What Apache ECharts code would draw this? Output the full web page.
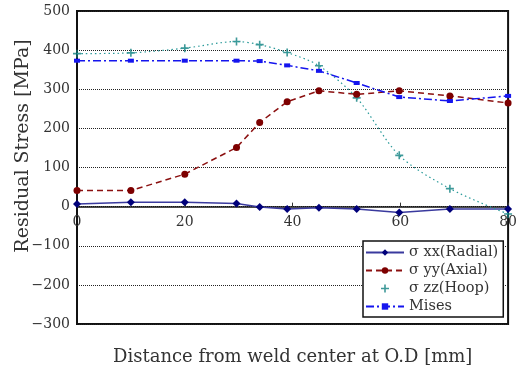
<!DOCTYPE html>
<html>
<head>
<meta charset="utf-8">
<script src="https://cdn.jsdelivr.net/npm/echarts@6/dist/echarts.min.js"></script>
<style>
  html, body { margin: 0; padding: 0; background: #fff; }
  #chart { width: 520px; height: 367px; }
</style>
</head>
<body>
<div id="chart"></div>
<script>
// Distance from weld center at O.D [mm]
const distance = [0, 10, 20, 29.6, 33.9, 39, 44.9, 51.9, 59.8, 69.2, 80];
// Residual stress components [MPa]
const sigmaXX = [7, 11, 11, 8, -1, -6, -3, -6, -15, -6, -6];
const sigmaYY = [41, 41, 83, 151, 215, 268, 296, 287, 296, 283, 265];
const sigmaZZ = [391, 393, 405, 422, 414, 394, 360, 278, 131, 46, -19];
const mises = [373, 373, 373, 373, 372, 361, 347, 316, 280, 270, 283];

const seriesNames = ['σ xx(Radial)', 'σ yy(Axial)', 'σ zz(Hoop)', 'Mises'];
const xTitle = 'Distance from weld center at O.D [mm]';
const yTitle = 'Residual Stress [MPa]';

const FONT = 'DejaVu Serif';
const pairs = vals => distance.map((d, i) => [d, vals[i]]);
const PLUS = 'path://M4,0H6V4H10V6H6V10H4V6H0V4H4Z';

// plot box geometry
const GRID = { left: 77, right: 11, top: 11, bottom: 43 };
const Y_MIN = -300, Y_MAX = 500;
const plotH = 367 - GRID.top - GRID.bottom;
// shift the x axis up from the bottom edge so it sits on the zero line
const zeroOffset = -plotH * (0 - Y_MIN) / (Y_MAX - Y_MIN);

const chart = echarts.init(document.getElementById('chart'), null, { renderer: 'canvas' });
chart.setOption({
  animation: false,
  backgroundColor: '#fff',
  textStyle: { fontFamily: FONT },
  grid: Object.assign({
    show: true, borderColor: '#111', borderWidth: 2, backgroundColor: 'transparent'
  }, GRID),
  xAxis: {
    type: 'value', min: 0, max: 80, interval: 20,
    offset: zeroOffset,
    axisLine: { onZero: false, lineStyle: { color: '#111', width: 1.5 } },
    axisTick: { inside: true, length: 4, lineStyle: { color: '#333' } },
    axisLabel: { margin: 9, fontFamily: FONT, fontSize: 14, color: '#333' },
    splitLine: { show: false }
  },
  yAxis: {
    type: 'value', min: Y_MIN, max: Y_MAX, interval: 100,
    axisLine: { show: true, lineStyle: { color: '#111', width: 2 } },
    axisTick: { show: false },
    axisLabel: {
      margin: 7, fontFamily: FONT, fontSize: 14, color: '#333',
      padding: [8, 0, 0, 0],
      formatter: v => String(v).replace('-', '\u2212')
    },
    splitLine: { show: true, lineStyle: { color: '#222', type: 'dotted', width: 1 } }
  },
  legend: {
    data: seriesNames,
    orient: 'vertical',
    left: 363, top: 241,
    padding: [4, 5, 3, 2],
    itemGap: 3,
    itemWidth: 38, itemHeight: 8,
    backgroundColor: '#fff',
    borderColor: '#111', borderWidth: 1.5,
    textStyle: { fontFamily: FONT, fontSize: 14.5, color: '#333' }
  },
  graphic: [
    {
      type: 'text', x: 113, y: 357,
      style: { text: xTitle, font: '18px "DejaVu Serif"', fill: '#333',
               align: 'left', verticalAlign: 'middle', textAlign: 'left', textVerticalAlign: 'middle' }
    },
    {
      type: 'text', x: 23, y: 146, rotation: Math.PI / 2,
      style: { text: yTitle, font: '19px "DejaVu Serif"', fill: '#333',
               align: 'center', verticalAlign: 'middle', textAlign: 'center', textVerticalAlign: 'middle' }
    }
  ],
  series: [
    {
      name: seriesNames[0], type: 'line', data: pairs(sigmaXX),
      symbol: 'diamond', symbolSize: 8,
      lineStyle: { color: '#3a3a9e', width: 1.5 },
      itemStyle: { color: '#00007a' }
    },
    {
      name: seriesNames[1], type: 'line', data: pairs(sigmaYY),
      symbol: 'circle', symbolSize: 7,
      lineStyle: { color: '#8b1010', width: 1.5, type: [6, 4] },
      itemStyle: { color: '#7d0000' }
    },
    {
      name: 'hoop-curve', type: 'line', data: pairs(sigmaZZ),
      smooth: 0.3, symbol: 'none',
      lineStyle: { color: '#2a9a9a', width: 1.2, type: [1.5, 3] }
    },
    {
      name: seriesNames[2], type: 'scatter', data: pairs(sigmaZZ),
      symbol: PLUS, symbolSize: 8,
      itemStyle: { color: '#0f8080' }
    },
    {
      name: seriesNames[3], type: 'line', data: pairs(mises),
      symbol: 'rect', symbolSize: [6, 4],
      lineStyle: { color: '#1515ee', width: 1.5, type: [8, 3, 2, 3] },
      itemStyle: { color: '#1515ee' }
    }
  ]
});
</script>
</body>
</html>
